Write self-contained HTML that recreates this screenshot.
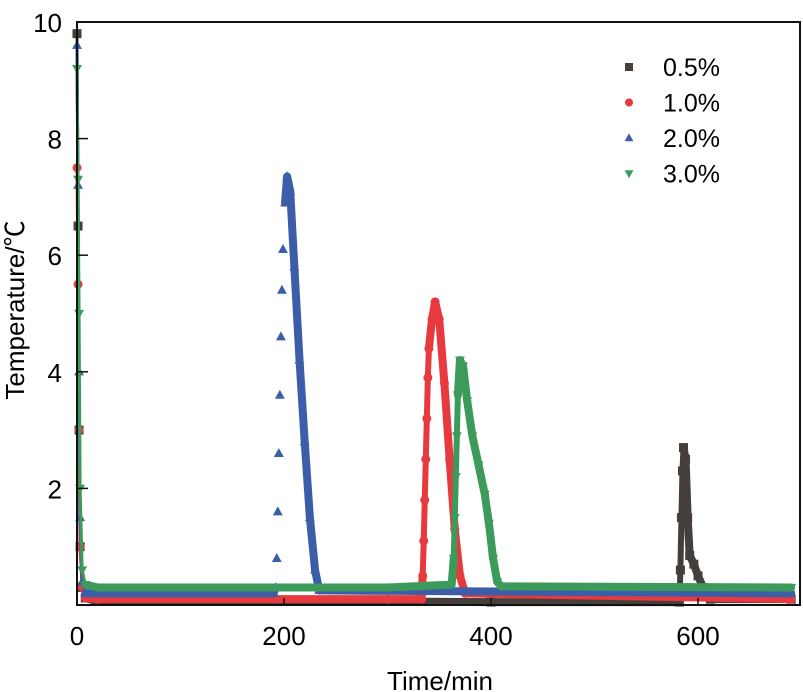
<!DOCTYPE html>
<html><head><meta charset="utf-8"><style>
body{margin:0;background:#fff;}
svg{display:block;font-family:"Liberation Sans","Noto Sans CJK SC",sans-serif;}
</style></head><body>
<svg id="chart" width="803" height="692">
<g id="marks"></g>
<rect x="77" y="22" width="723" height="583" fill="none" stroke="#111" stroke-width="2"/>
<g id="axes"></g>
<text x="440" y="690" font-size="26" text-anchor="middle">Time/min</text>
<text transform="translate(24,310) rotate(-90)" font-size="26" text-anchor="middle">Temperature/℃</text>
<g id="legend"></g>
</svg>
<script>
const xTicks=[0,200,400,600];
const yTicks=[2,4,6,8,10];
const seriesNames=["0.5%","1.0%","2.0%","3.0%"];
const colors=["#453f3c","#e8393f","#3c5ea8","#3c9a5a"];
const t05=[0,1,2,3,5,8,20,300,400,582,583,584,585,586,588,590,592,596,600,605,612,690];
const v05=[9.8,6.5,3,1,0.3,0.12,0.06,0.06,0.05,0.05,0.6,1.5,2.3,2.7,2.5,1.5,0.85,0.7,0.5,0.3,0.1,0.1];
const t10=[0,1,2,3,5,8,20,300,333,334,335,336,337,338,339,340,343,346,350,355,360,365,370,375,690];
const v10=[7.5,5.5,3,1,0.3,0.12,0.1,0.1,0.1,0.5,1.1,1.8,2.5,3.2,3.9,4.4,4.9,5.2,4.9,3.8,2.5,1.3,0.5,0.2,0.1];
const t20=[0,1,2,3,5,8,20,190,192,193,194,195,196,197,198,199,201,203,206,210,215,220,225,230,234,690];
const v20=[9.6,7.2,4,1.5,0.4,0.2,0.2,0.2,0.3,0.8,1.6,2.6,3.6,4.6,5.4,6.1,6.9,7.35,7.1,5.8,4.2,2.8,1.5,0.6,0.25,0.2];
const t30=[0,1,2,3,5,8,20,300,362,364,365,366,367,368,370,373,377,382,388,394,398,402,406,410,690];
const v30=[9.2,7.3,5,2,0.6,0.35,0.3,0.3,0.35,0.8,1.5,2.2,2.9,3.6,4.2,4.1,3.5,2.9,2.4,1.9,1.4,0.8,0.4,0.32,0.3];
const seriesT=[t05,t10,t20,t30];
const seriesV=[v05,v10,v20,v30];
const X=t=>77+t*1.035;
const Y=v=>605-v*58.3;
const NS="http://www.w3.org/2000/svg";
function el(tag,attrs,parent){const e=document.createElementNS(NS,tag);for(const k in attrs)e.setAttribute(k,attrs[k]);parent.appendChild(e);return e;}
function marker(i,x,y,s,parent){
  let e;
  if(i===0)e=el("rect",{x:x-s,y:y-s,width:2*s,height:2*s,fill:colors[i]},parent);
  else if(i===1)e=el("circle",{cx:x,cy:y,r:s,fill:colors[i]},parent);
  else if(i===2)e=el("polygon",{points:`${x},${y-s*1.2} ${x-s*1.1},${y+s*0.8} ${x+s*1.1},${y+s*0.8}`,fill:colors[i]},parent);
  else e=el("polygon",{points:`${x},${y+s*1.2} ${x-s*1.1},${y-s*0.8} ${x+s*1.1},${y-s*0.8}`,fill:colors[i]},parent);
  return e;
}
const axes=document.getElementById("axes");
xTicks.forEach(t=>{
  const l=el("line",{x1:X(t),x2:X(t),y1:605,y2:598,stroke:"#111","stroke-width":1.5},axes);
  
  
  const tx=el("text",{x:X(t),y:645,"font-size":26,"text-anchor":"middle"},axes);
  tx.textContent=t;
  
  
});
yTicks.forEach(v=>{
  const l=el("line",{x1:77,x2:88,y1:Y(v),y2:Y(v),stroke:"#111","stroke-width":1.5},axes);
  
  
  const tx=el("text",{x:62,y:Y(v)+10,"font-size":26,"text-anchor":"end"},axes);
  tx.textContent=v;
  
  
});
const marks=document.getElementById("marks");
[0,1,2,3].forEach(i=>{
  const g=el("g",{},marks);
  
  
  const T=seriesT[i],V=seriesV[i];
  for(let j=0;j<T.length-1;j++){
    const rising=(V[j+1]-V[j])>0.4*(T[j+1]-T[j]);
    if(rising && i===2) continue;
    const w=j<5?3:(rising?6:8);
    const s=el("line",{x1:X(T[j]),y1:Y(V[j]),x2:X(T[j+1]),y2:Y(V[j+1]),stroke:colors[i],"stroke-width":w,"stroke-linecap":"round"},g);
    
    
  }
  T.forEach((t,j)=>{
    const m=marker(i,X(t),Y(V[j]),4.5,g);
    
    
  });
});
const lg=document.getElementById("legend");
seriesNames.forEach((n,i)=>{
  const y=67+i*35.5;
  const m=marker(i,629,y,4,lg);
  
  
  const tx=el("text",{x:663,y:y+9,"font-size":25},lg);
  tx.textContent=n;
  
  
});
</script>
</body></html>
